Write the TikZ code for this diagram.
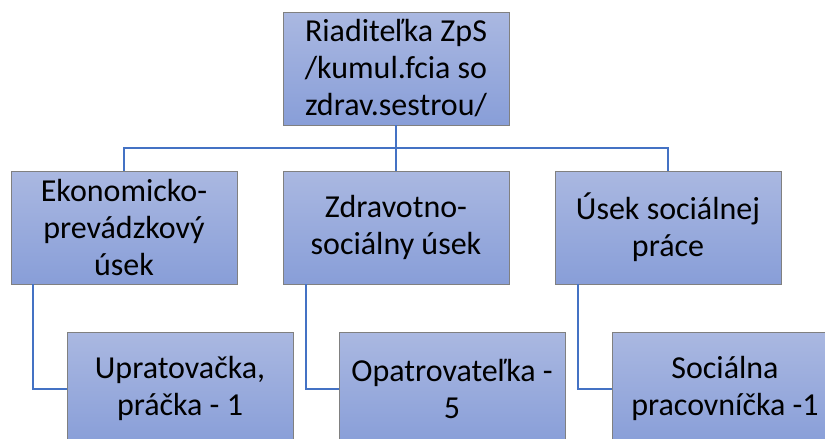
\documentclass[tikz,border=0pt]{standalone}
\usepackage{fontspec}
\setmainfont{Carlito}
\begin{document}
\begin{tikzpicture}[x=1pt,y=-1pt,
  orgbox/.style={draw=black!50, line width=0.8pt, top color=boxtop, bottom color=boxbot,
    minimum width=226pt, minimum height=113pt, inner sep=0pt, align=center,
    font=\fontsize{32}{37}\selectfont},
  link/.style={draw=linkblue, line width=2pt}]
\definecolor{boxtop}{HTML}{AAB8E1}
\definecolor{boxbot}{HTML}{889ED8}
\definecolor{linkblue}{HTML}{4472C4}
\useasboundingbox (0,0) rectangle (825,439);
\begin{scope}
\clip (0,0) rectangle (825,439);
% nodes
\node[orgbox] (top) at (396,68.5) {Riaditeľka ZpS\\/kumul.fcia so\\zdrav.sestrou/};
\node[orgbox] (a) at (124,227.5) {Ekonomicko-\\prevádzkový\\úsek};
\node[orgbox] (b) at (396,227.5) {Zdravotno-\\sociálny úsek};
\node[orgbox] (c) at (668,227.5) {Úsek sociálnej\\práce};
\coordinate (bar) at (396,148);
% connectors
\draw[link] (top.south) -- (bar);
\draw[link] (a.north) |- (bar) -| (c.north);
\draw[link] (bar) -- (b.north);
\node[orgbox] (a1) at (180,388.5) {Upratovačka,\\práčka - 1};
\node[orgbox] (b1) at (452,388.5) {Opatrovateľka -\\5};
\node[orgbox] (c1) at (725,388.5) {Sociálna\\pracovníčka -1};
\draw[link] ([xshift=-91pt]a.south) |- (a1.west);
\draw[link] ([xshift=-90pt]b.south) |- (b1.west);
\draw[link] ([xshift=-90pt]c.south) |- (c1.west);
\end{scope}
\end{tikzpicture}
\end{document}
